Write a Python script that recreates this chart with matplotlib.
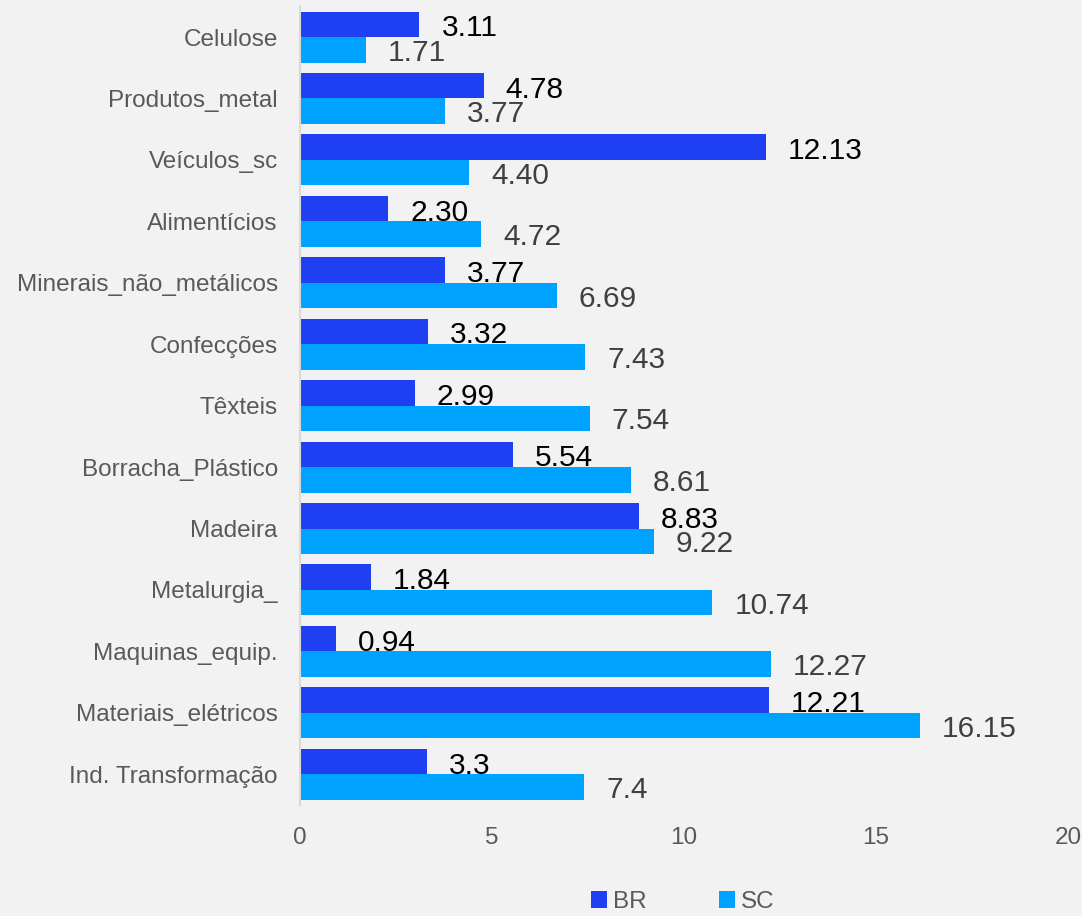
import matplotlib
matplotlib.use('Agg')
import matplotlib.pyplot as plt
import numpy as np

# ── data ────────────────────────────────────────────────────
categories = ['Celulose', 'Produtos_metal', 'Veículos_sc', 'Alimentícios',
              'Minerais_não_metálicos', 'Confecções', 'Têxteis',
              'Borracha_Plástico', 'Madeira', 'Metalurgia_',
              'Maquinas_equip.', 'Materiais_elétricos', 'Ind. Transformação']
br = [3.11, 4.78, 12.13, 2.30, 3.77, 3.32, 2.99, 5.54, 8.83, 1.84, 0.94, 12.21, 3.3]
sc = [1.71, 3.77, 4.40, 4.72, 6.69, 7.43, 7.54, 8.61, 9.22, 10.74, 12.27, 16.15, 7.4]
br_labels = ['3.11', '4.78', '12.13', '2.30', '3.77', '3.32', '2.99', '5.54',
             '8.83', '1.84', '0.94', '12.21', '3.3']
sc_labels = ['1.71', '3.77', '4.40', '4.72', '6.69', '7.43', '7.54', '8.61',
             '9.22', '10.74', '12.27', '16.15', '7.4']
xticks = [0, 5, 10, 15, 20]

# ── style ───────────────────────────────────────────────────
plt.rcParams['font.family'] = ['Liberation Sans', 'DejaVu Sans']
bg = '#F2F2F2'
c_br = '#1F40F2'
c_sc = '#00A2FF'
gray = '#595959'

fig = plt.figure(figsize=(10.82, 9.16), dpi=100)
fig.patch.set_facecolor(bg)
ax = fig.add_axes([0.2773, 0.1212, 0.7098, 0.8719])
ax.set_facecolor(bg)

y = np.arange(len(categories))
h = 0.415
b1 = ax.barh(y - h/2, br, h, color=c_br, label='BR')
b2 = ax.barh(y + h/2, sc, h, color=c_sc, label='SC')

for bar, txt in zip(b1, br_labels):
    ax.annotate(txt, (bar.get_width(), bar.get_y() + bar.get_height()/2),
                xytext=(22, -4), textcoords='offset pixels',
                ha='left', va='center', fontsize=21.5, color='black')
for bar, txt in zip(b2, sc_labels):
    ax.annotate(txt, (bar.get_width(), bar.get_y() + bar.get_height()/2),
                xytext=(22, -3), textcoords='offset pixels',
                ha='left', va='center', fontsize=21.5, color='#404040')

ax.set_xlim(0, 20)
ax.set_ylim(len(categories) - 0.5, -0.5)
ax.set_yticks(y)
ax.set_yticklabels(categories, fontsize=17.5, color=gray)
ax.set_xticks(xticks)
ax.set_xticklabels([str(t) for t in xticks], fontsize=17.5, color=gray)
ax.tick_params(axis='both', length=0)
ax.tick_params(axis='x', pad=16)
ax.tick_params(axis='y', pad=16)
for s in ['top', 'right', 'bottom']:
    ax.spines[s].set_visible(False)
ax.spines['left'].set_color('#D9D9D9')
ax.spines['left'].set_linewidth(1.5)

leg = fig.legend(handles=[b1, b2], labels=['BR', 'SC'], loc='center',
                 bbox_to_anchor=(683/1082, 1 - 902/916), ncol=2, frameon=False,
                 fontsize=17.5, handlelength=0.65, handleheight=0.65,
                 handletextpad=0.25, columnspacing=3.0, labelcolor=gray)

fig.savefig('out.png', dpi=100, facecolor=bg)
